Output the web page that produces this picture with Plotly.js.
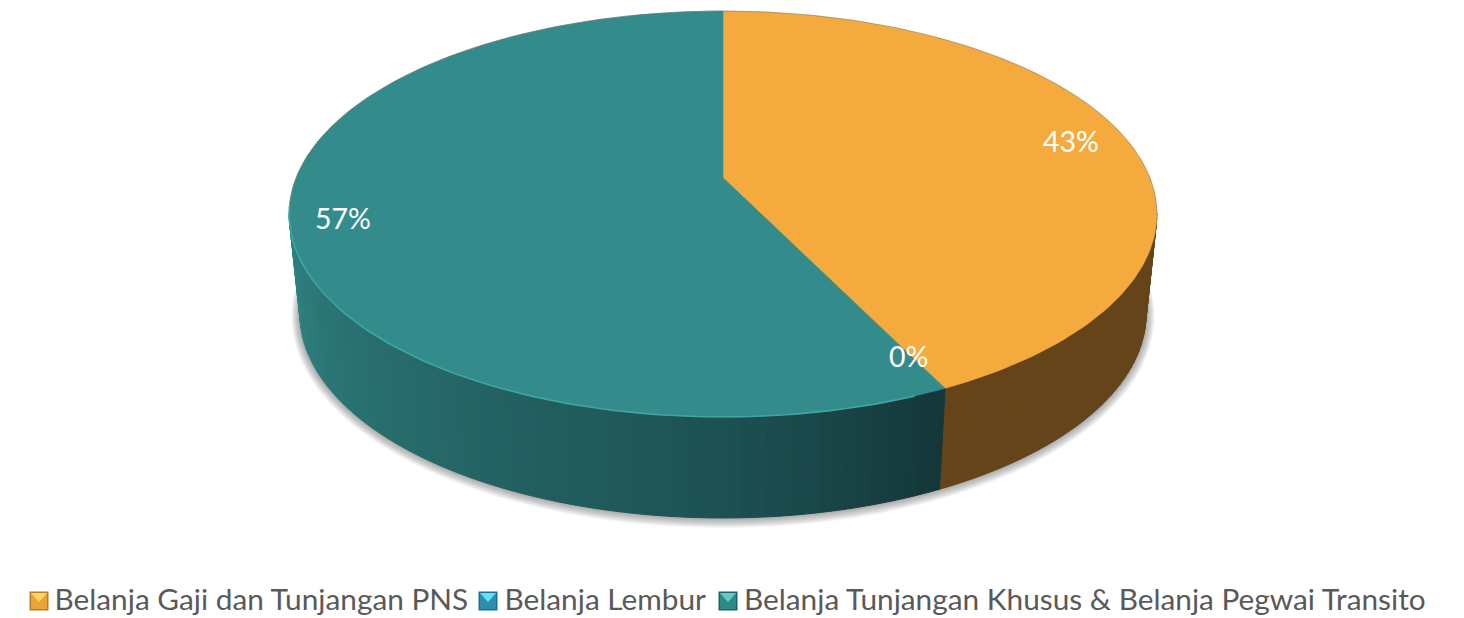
<!DOCTYPE html>
<html><head><meta charset="utf-8">
<script src="https://cdn.plot.ly/plotly-3.0.1.min.js"></script>
<style>html,body{margin:0;padding:0;background:#fff}#chart{width:1464px;height:618px}</style>
</head><body><div id="chart"></div>
<script>
// Data
const categories = ["Belanja Gaji dan Tunjangan PNS", "Belanja Lembur", "Belanja Tunjangan Khusus & Belanja Pegwai Transito"];
const shares = [42.8, 0.02, 57.18];
const labels = ["43%", "0%", "57%"];

// Styles
const topColors = ["#f5aa3e", "#338c8b", "#338c8b"];
const swatchBody = ["#e9a33a", "#2d8fae", "#2c8a88"];
const swatchLight = ["#ffd95e", "#62e2fa", "#62cbc5"];
const swatchEdge = ["#b47f26", "#1f7089", "#1f6564"];
const swatchLeft = [29.5, 478.5, 718.5];
const legendLeft = [14.5, 464.5, 704];
const sideStops = [
  [[0, "#65441a"], [360, "#65441a"]],
  [[0, "#143a3c"], [360, "#143a3c"]],
  [[154, "#143739"], [180, "#1d5153"], [220, "#276a6a"], [262, "#2f8583"], [300, "#2f8583"]]
];
const FONT = "Lato, Carlito, Calibri, sans-serif";

// Perspective view of the pie's top disc, mapped on the x/y axes
const CX = 723, APEX = 178, K = 0.1773, A = 196.6, B = 427;
function topPt(deg) {
  const t = deg * Math.PI / 180, X = Math.sin(t), Y = Math.cos(t), w = 1 + K * Y;
  return [CX + B * X / w, APEX - A * Y / w];
}
function botPt(deg) {
  const p = topPt(deg);
  return [CX + (p[0] - CX) * 0.975, 314 + (p[1] - 214) * 1.005];
}
function hex(c) { return [1, 3, 5].map(i => parseInt(c.substr(i, 2), 16)); }
function shade(stops, deg) {
  if (deg <= stops[0][0]) return stops[0][1];
  for (let i = 1; i < stops.length; i++) {
    if (deg <= stops[i][0]) {
      const f = (deg - stops[i-1][0]) / (stops[i][0] - stops[i-1][0]);
      const a = hex(stops[i-1][1]), b = hex(stops[i][1]);
      return "rgb(" + a.map((v, j) => Math.round(v + (b[j] - v) * f)).join(",") + ")";
    }
  }
  return stops[stops.length - 1][1];
}
const total = shares.reduce((a, b) => a + b, 0);
const spans = [];
let acc = 0;
shares.forEach(v => { spans.push([acc / total * 360, (acc + v) / total * 360]); acc += v; });

const traces = [];
function poly(pts, color, lineW) {
  traces.push({type: "scatter", mode: "lines", x: pts.map(p => p[0]), y: pts.map(p => p[1]),
    fill: "toself", fillcolor: color, line: {color: color, width: lineW || 0},
    hoverinfo: "skip", showlegend: false});
}
// soft shadow beneath the drum
for (let d = 9; d >= 1; d -= 1) {
  const pts = [];
  for (let a = 60; a <= 300; a += 3) {
    const p = botPt(a);
    const dx = p[0] - CX, dy = p[1] - 314;
    pts.push([CX + dx * (1 + d * 0.95 / 424), 314 + d * 0.25 + dy * (1 + d * 0.85 / 204)]);
  }
  poly(pts, "rgba(70,70,70,0.06)");
}
// side wall strips, front-facing arc only
const STEP = 1.5;
spans.forEach((sp, i) => {
  const from = Math.max(sp[0], 100), to = Math.min(sp[1], 260);
  for (let a = from; a < to; a += STEP) {
    const b = Math.min(a + STEP, to);
    const c = shade(sideStops[i], (a + b) / 2);
    poly([topPt(a), topPt(b), botPt(b), botPt(a), topPt(a)], c, 1);
  }
});
// top disc wedges
spans.forEach((sp, i) => {
  const pts = [[CX, APEX]];
  for (let a = sp[0]; a < sp[1]; a += 1) pts.push(topPt(a));
  pts.push(topPt(sp[1]));
  pts.push([CX, APEX]);
  poly(pts, topColors[i], 0.5);
});
// bevelled rim of the top disc
function rim(from, to, color, width) {
  const pts = [];
  for (let a = from; a <= to; a += 1) pts.push(topPt(a));
  traces.push({type: "scatter", mode: "lines", x: pts.map(p => p[0]), y: pts.map(p => p[1]),
    line: {color: color, width: width}, hoverinfo: "skip", showlegend: false});
}
rim(158, 262, "#3ea5a2", 1.6);
rim(262, 360, "rgba(110,110,110,0.55)", 0.9);
rim(0, 100, "rgba(110,110,110,0.55)", 0.9);
// bevelled legend swatches
swatchLeft.forEach((x0, i) => {
  const s = 19, y0 = 591.5, e = 1.5;
  poly([[x0,y0],[x0+s,y0],[x0+s,y0+s],[x0,y0+s],[x0,y0]], swatchEdge[i]);
  poly([[x0+e,y0+e],[x0+s-e,y0+e],[x0+s-e,y0+s-e],[x0+e,y0+s-e],[x0+e,y0+e]], swatchBody[i]);
  poly([[x0+e,y0+e],[x0+s-e,y0+e],[x0+s/2,y0+s/2+1],[x0+e,y0+e]], swatchLight[i]);
});
// legend entries (text; the bevelled swatches above sit behind their clear markers)
const legendIds = ["legend", "legend2", "legend3"];
categories.forEach((name, i) => {
  traces.push({type: "scatter", mode: "markers", x: [null], y: [null], name: name, legend: legendIds[i],
    marker: {symbol: "square", size: 12, color: "rgba(0,0,0,0)", line: {width: 0}}});
});
function legendAt(x) {
  return {orientation: "h", x: x / 1464, xanchor: "left", y: -0.011, yanchor: "bottom",
    font: {family: FONT, size: 29.8, color: "#595959"}, itemwidth: 30, bgcolor: "rgba(0,0,0,0)"};
}

const layout = {
  width: 1464, height: 618,
  margin: {l: 0, r: 0, t: 0, b: 0, pad: 0, autoexpand: false},
  paper_bgcolor: "#fff", plot_bgcolor: "#fff",
  xaxis: {range: [0, 1464], visible: false, fixedrange: true},
  yaxis: {range: [618, 0], visible: false, fixedrange: true},
  showlegend: true,
  legend: legendAt(legendLeft[0]),
  legend2: legendAt(legendLeft[1]),
  legend3: legendAt(legendLeft[2]),
  annotations: [
    {x: 1071, y: 141, text: labels[0]},
    {x: 908, y: 356, text: labels[1]},
    {x: 342.5, y: 217.5, text: labels[2]}
  ].map(a => Object.assign(a, {xref: "x", yref: "y", showarrow: false,
    font: {family: FONT, size: 28.5, color: "#ffffff"}}))
};
Plotly.newPlot("chart", traces, layout, {displayModeBar: false, staticPlot: true});
</script></body></html>
